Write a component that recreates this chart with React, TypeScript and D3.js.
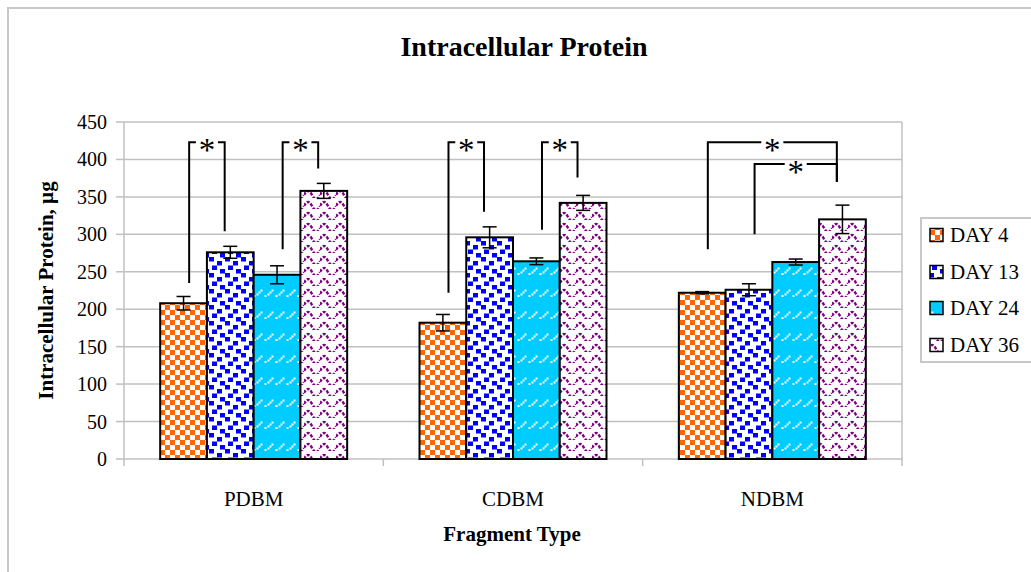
import React from "react";
import * as d3 from "d3";

const categories = ["PDBM", "CDBM", "NDBM"];
const seriesNames = ["DAY 4", "DAY 13", "DAY 24", "DAY 36"];
const day4 = [208, 182, 222];
const day13 = [276, 296, 226];
const day24 = [246, 264, 263];
const day36 = [358, 342, 320];
const err4 = [9, 11, 1.5];
const err13 = [8, 14, 8];
const err24 = [12, 4.5, 4];
const err36 = [10, 10, 19];
const yTicks = [0, 50, 100, 150, 200, 250, 300, 350, 400, 450];

// significance brackets: group, series a, series b, top value, leg ends
const brGroup = ["PDBM", "PDBM", "CDBM", "CDBM", "NDBM", "NDBM"];
const brA = [0, 2, 0, 2, 0, 1];
const brB = [1, 3, 1, 3, 3, 3];
const brTop = [423, 423, 423, 423, 423, 394];
const brEndA = [235, 280, 222, 306, 280, 300];
const brEndB = [304, 388, 330, 376, 370, 370];

const values = [day4, day13, day24, day36];
const errors = [err4, err13, err24, err36];
const patternIds = ["pChecker", "pConfetti", "pDash", "pWave"];

const FONT = "'Liberation Serif', 'Times New Roman', 'DejaVu Serif', serif";

export default function App() {
  const W = 1031, H = 572;
  const left = 124, right = 902, top = 122, bottom = 459;
  const x0 = d3.scaleBand().domain(categories).range([left, right]).paddingInner(0.279).paddingOuter(0.1395);
  const x1 = d3.scaleBand().domain(seriesNames).range([0, x0.bandwidth()]);
  const y = d3.scaleLinear().domain([0, 450]).range([bottom, top]);
  const step = x0.step();
  const bw = x1.bandwidth();
  const grid = "#c0c0c0";
  const tStyle = { fontFamily: FONT };

  const bars: any[] = [];
  seriesNames.forEach((s, si) => {
    categories.forEach((c, ci) => {
      const v = values[si][ci];
      const e = errors[si][ci];
      const bx = (x0(c) as number) + (x1(s) as number);
      const cx = bx + bw / 2;
      bars.push(
        <g key={s + c}>
          <rect x={bx} y={y(v)} width={bw} height={y(0) - y(v)} fill={`url(#${patternIds[si]})`} stroke="#000" strokeWidth={2} />
          <line x1={cx} x2={cx} y1={y(v + e)} y2={y(v - e)} stroke="#000" strokeWidth={1.5} />
          <line x1={cx - 7} x2={cx + 7} y1={y(v + e)} y2={y(v + e)} stroke="#000" strokeWidth={1.5} />
          <line x1={cx - 7} x2={cx + 7} y1={y(v - e)} y2={y(v - e)} stroke="#000" strokeWidth={1.5} />
        </g>
      );
    });
  });

  const inset = bw * 0.12;
  const brackets = brGroup.map((g, i) => {
    const xa = (x0(g) as number) + (x1(seriesNames[brA[i]]) as number) + bw / 2 + inset;
    const xb = (x0(g) as number) + (x1(seriesNames[brB[i]]) as number) + bw / 2 - inset;
    const yt = y(brTop[i]);
    const mid = (xa + xb) / 2;
    const gap = 11;
    return (
      <g key={"br" + i}>
        <path d={`M${xa},${y(brEndA[i])} V${yt} H${mid - gap}`} fill="none" stroke="#000" strokeWidth={2} />
        <path d={`M${mid + gap},${yt} H${xb} V${y(brEndB[i])}`} fill="none" stroke="#000" strokeWidth={2} />
        <text x={mid} y={yt + 19} textAnchor="middle" style={tStyle} fontSize={33} fill="#000">*</text>
      </g>
    );
  });

  const legendY = [235, 272, 308, 345];

  return (
    <svg width={W} height={H} style={{ position: "absolute", left: 0, top: 0, display: "block", background: "#fff" }}>
      <defs>
        <pattern id="pChecker" width={10} height={10} patternUnits="userSpaceOnUse">
          <rect width={10} height={10} fill="#fff" />
          <rect x={0} y={0} width={5} height={5} fill="#ff6600" />
          <rect x={5} y={5} width={5} height={5} fill="#ff6600" />
        </pattern>
        <pattern id="pConfetti" width={16} height={16} patternUnits="userSpaceOnUse">
          <rect width={16} height={16} fill="#fff" />
          <rect x={1} y={1} width={5} height={4.5} fill="#0000ff" />
          <rect x={9} y={5} width={5} height={4.5} fill="#0000ff" />
          <rect x={4} y={9.5} width={5} height={4.5} fill="#0000ff" />
          <rect x={12} y={13} width={5} height={4.5} fill="#0000ff" />
          <rect x={-4} y={13} width={5} height={4.5} fill="#0000ff" />
          <rect x={12} y={-3} width={5} height={4.5} fill="#0000ff" />
          <rect x={-4} y={-3} width={5} height={4.5} fill="#0000ff" />
        </pattern>
        <pattern id="pDash" width={11} height={22} patternUnits="userSpaceOnUse">
          <rect width={11} height={22} fill="#00ccff" />
          <rect x={0.5} y={9} width={2} height={2} fill="#fff" />
          <rect x={3.5} y={7.5} width={2} height={2} fill="#fff" />
          <rect x={5.5} y={5.5} width={2} height={2} fill="#fff" />
          <rect x={7.5} y={3.5} width={2} height={2} fill="#fff" />
        </pattern>
        <pattern id="pWave" width={16} height={11} patternUnits="userSpaceOnUse">
          <rect width={16} height={11} fill="#fff" />
          <path d="M0,8 Q4,0 8,8 T16,8" fill="none" stroke="#800080" strokeWidth={2.4} strokeDasharray="3,1.5" />
        </pattern>
      </defs>

      <rect x={8} y={8} width={1100} height={700} fill="#fff" stroke="#c8c8c8" strokeWidth={2} />

      <text x={524} y={56} textAnchor="middle" style={tStyle} fontWeight="bold" fontSize={28} fill="#000">Intracellular Protein</text>

      {yTicks.map((t) => (
        <g key={"g" + t}>
          <line x1={left} x2={right} y1={y(t)} y2={y(t)} stroke={grid} strokeWidth={1.5} />
          <line x1={left - 8} x2={left} y1={y(t)} y2={y(t)} stroke={grid} strokeWidth={1.5} />
          <text x={107} y={y(t)} dy="0.35em" textAnchor="end" style={tStyle} fontSize={20} fill="#000">{t}</text>
        </g>
      ))}
      <line x1={left} x2={left} y1={top} y2={bottom} stroke={grid} strokeWidth={1.5} />
      <line x1={right} x2={right} y1={top} y2={bottom} stroke={grid} strokeWidth={1.5} />
      {[0, 1, 2, 3].map((i) => (
        <line key={"xt" + i} x1={left + i * step} x2={left + i * step} y1={bottom} y2={bottom + 7} stroke={grid} strokeWidth={1.5} />
      ))}

      {bars}
      {brackets}

      {categories.map((c) => (
        <text key={"c" + c} x={(x0(c) as number) + x0.bandwidth() / 2} y={506} textAnchor="middle" style={tStyle} fontSize={21} fill="#000">{c}</text>
      ))}

      <text x={512} y={541} textAnchor="middle" style={tStyle} fontWeight="bold" fontSize={21} fill="#000">Fragment Type</text>
      <text transform={`translate(53,${(top + bottom) / 2}) rotate(-90)`} textAnchor="middle" style={tStyle} fontWeight="bold" fontSize={21} fill="#000">Intracellular Protein, µg</text>

      <rect x={921} y={218} width={130} height={144} fill="#fff" stroke="#c8c8c8" strokeWidth={2} />
      {seriesNames.map((s, i) => (
        <g key={"l" + s}>
          <rect x={930} y={legendY[i] - 6.5} width={13} height={13} fill={`url(#${patternIds[i]})`} stroke="#000" strokeWidth={1.5} />
          <text x={950} y={legendY[i]} dy="0.35em" style={tStyle} fontSize={21} fill="#000">{s}</text>
        </g>
      ))}
    </svg>
  );
}
